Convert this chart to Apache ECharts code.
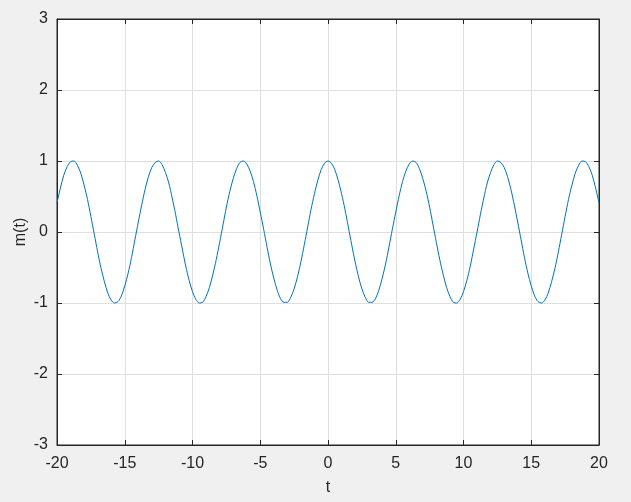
<!DOCTYPE html>
<html>
<head>
<meta charset="utf-8">
<script src="https://cdn.jsdelivr.net/npm/echarts@6/dist/echarts.min.js"></script>
<style>
html,body{margin:0;padding:0;background:#f0f0f0;}
#chart{width:631px;height:502px;}
</style>
</head>
<body>
<div id="chart"></div>
<script>
// t samples (step 0.25) and m(t) values
var tValues = [
  -20, -19.75, -19.5, -19.25, -19, -18.75, -18.5, -18.25, -18, -17.75, -17.5, -17.25,
  -17, -16.75, -16.5, -16.25, -16, -15.75, -15.5, -15.25, -15, -14.75, -14.5, -14.25,
  -14, -13.75, -13.5, -13.25, -13, -12.75, -12.5, -12.25, -12, -11.75, -11.5, -11.25,
  -11, -10.75, -10.5, -10.25, -10, -9.75, -9.5, -9.25, -9, -8.75, -8.5, -8.25,
  -8, -7.75, -7.5, -7.25, -7, -6.75, -6.5, -6.25, -6, -5.75, -5.5, -5.25,
  -5, -4.75, -4.5, -4.25, -4, -3.75, -3.5, -3.25, -3, -2.75, -2.5, -2.25,
  -2, -1.75, -1.5, -1.25, -1, -0.75, -0.5, -0.25,
  0, 0.25, 0.5, 0.75, 1, 1.25, 1.5, 1.75, 2, 2.25, 2.5, 2.75,
  3, 3.25, 3.5, 3.75, 4, 4.25, 4.5, 4.75, 5, 5.25, 5.5, 5.75,
  6, 6.25, 6.5, 6.75, 7, 7.25, 7.5, 7.75, 8, 8.25, 8.5, 8.75,
  9, 9.25, 9.5, 9.75, 10, 10.25, 10.5, 10.75, 11, 11.25, 11.5, 11.75,
  12, 12.25, 12.5, 12.75, 13, 13.25, 13.5, 13.75, 14, 14.25, 14.5, 14.75,
  15, 15.25, 15.5, 15.75, 16, 16.25, 16.5, 16.75, 17, 17.25, 17.5, 17.75,
  18, 18.25, 18.5, 18.75, 19, 19.25, 19.5, 19.75, 20
];
var mValues = [
  0.41, 0.62, 0.80, 0.92, 0.99, 1.00, 0.94, 0.83, 0.66, 0.46, 0.22, -0.03,
  -0.28, -0.51, -0.70, -0.86, -0.96, -1.00, -0.98, -0.90, -0.76, -0.58, -0.36, -0.11,
  0.14, 0.38, 0.60, 0.78, 0.91, 0.98, 1.00, 0.95, 0.84, 0.69, 0.48, 0.25,
  0.00, -0.24, -0.48, -0.68, -0.84, -0.95, -1.00, -0.99, -0.91, -0.78, -0.60, -0.39,
  -0.15, 0.10, 0.35, 0.57, 0.75, 0.89, 0.98, 1.00, 0.96, 0.86, 0.71, 0.51,
  0.28, 0.04, -0.21, -0.45, -0.65, -0.82, -0.94, -0.99, -0.99, -0.92, -0.80, -0.63,
  -0.42, -0.18, 0.07, 0.32, 0.54, 0.73, 0.88, 0.97,
  1.00, 0.97, 0.88, 0.73, 0.54, 0.32, 0.07, -0.18, -0.42, -0.63, -0.80, -0.92,
  -0.99, -0.99, -0.94, -0.82, -0.65, -0.45, -0.21, 0.04, 0.28, 0.51, 0.71, 0.86,
  0.96, 1.00, 0.98, 0.89, 0.75, 0.57, 0.35, 0.10, -0.15, -0.39, -0.60, -0.78,
  -0.91, -0.99, -1.00, -0.95, -0.84, -0.68, -0.48, -0.24, 0.00, 0.25, 0.48, 0.69,
  0.84, 0.95, 1.00, 0.98, 0.91, 0.78, 0.60, 0.38, 0.14, -0.11, -0.36, -0.58,
  -0.76, -0.90, -0.98, -1.00, -0.96, -0.86, -0.70, -0.51, -0.28, -0.03, 0.22, 0.46,
  0.66, 0.83, 0.94, 1.00, 0.99, 0.92, 0.80, 0.62, 0.41
];
var xTicks = [-20, -15, -10, -5, 0, 5, 10, 15, 20];
var yTicks = [-3, -2, -1, 0, 1, 2, 3];

var axisColor = '#262626';
var font = 'Liberation Sans, Arial, sans-serif';

var points = tValues.map(function (t, i) { return [t, mValues[i]]; });

var chart = echarts.init(document.getElementById('chart'));

// extra axes only to put inward ticks on the top and right edges of the box
function tickAxis(base) {
  return Object.assign({
    type: 'value',
    axisLine: {show: true, onZero: false, lineStyle: {color: axisColor, width: 1}},
    axisTick: {show: true, inside: true, length: 5, lineStyle: {color: axisColor}},
    splitLine: {show: false},
    axisLabel: {show: false}
  }, base);
}

chart.setOption({
  backgroundColor: '#f0f0f0',
  animation: false,
  grid: {
    left: 57, right: 32, top: 19, bottom: 57,
    show: true, backgroundColor: '#ffffff', borderColor: axisColor, borderWidth: 1
  },
  xAxis: [
    {
      type: 'value',
      min: xTicks[0], max: xTicks[xTicks.length - 1], interval: 5,
      name: 't', nameLocation: 'middle', nameGap: 35, nameMoveOverlap: false,
      nameTextStyle: {color: axisColor, fontSize: 16, fontFamily: font},
      axisLine: {show: true, onZero: false, lineStyle: {color: axisColor, width: 1}},
      axisTick: {show: true, inside: true, length: 5, lineStyle: {color: axisColor}},
      axisLabel: {color: axisColor, fontSize: 16, fontFamily: font, margin: 11},
      splitLine: {show: true, lineStyle: {color: '#dfdfdf', width: 1}}
    },
    tickAxis({position: 'top', min: xTicks[0], max: xTicks[xTicks.length - 1], interval: 5})
  ],
  yAxis: [
    {
      type: 'value',
      min: yTicks[0], max: yTicks[yTicks.length - 1], interval: 1,
      name: 'm(t)', nameLocation: 'middle', nameGap: 28, nameMoveOverlap: false,
      nameTextStyle: {color: axisColor, fontSize: 16, fontFamily: font},
      axisLine: {show: true, onZero: false, lineStyle: {color: axisColor, width: 1}},
      axisTick: {show: true, inside: true, length: 5, lineStyle: {color: axisColor}},
      axisLabel: {color: axisColor, fontSize: 16, fontFamily: font, margin: 9},
      splitLine: {show: true, lineStyle: {color: '#dfdfdf', width: 1}}
    },
    tickAxis({position: 'right', min: yTicks[0], max: yTicks[yTicks.length - 1], interval: 1})
  ],
  series: [{
    type: 'line',
    data: points,
    smooth: 0.3,
    showSymbol: false,
    lineStyle: {color: '#0072bd', width: 1},
    itemStyle: {color: '#0072bd'}
  }]
});
</script>
</body>
</html>
